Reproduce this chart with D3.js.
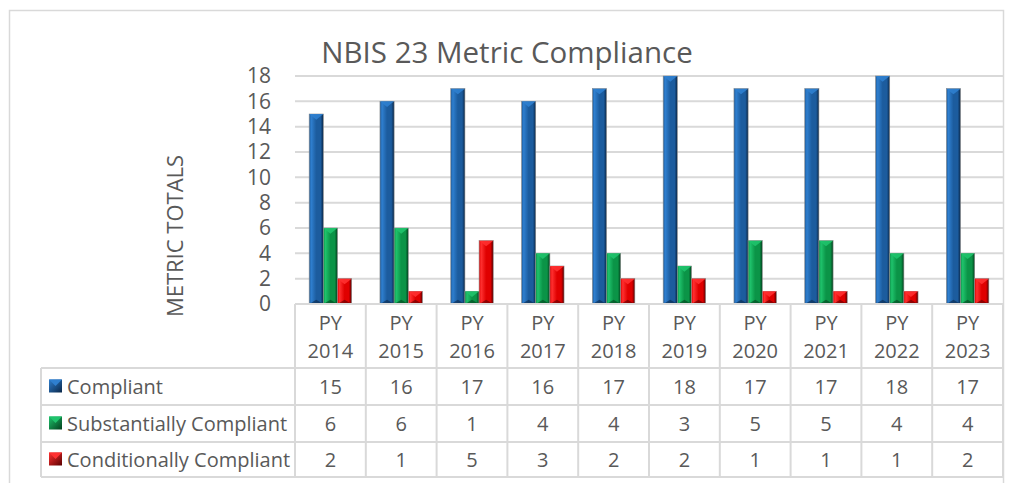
<!DOCTYPE html>
<html>
<head>
<meta charset="utf-8">
<script src="https://cdn.jsdelivr.net/npm/d3@7"></script>
<style>
	body { margin: 0; background: #fff; }
	text { font-family: "Open Sans", "Noto Sans", sans-serif; fill: #595959; }
</style>
</head>
<body>
<div id="chart"></div>
<script>
var years = ["2014", "2015", "2016", "2017", "2018", "2019", "2020", "2021", "2022", "2023"];
var seriesNames = ["Compliant", "Substantially Compliant", "Conditionally Compliant"];
var compliant = [15, 16, 17, 16, 17, 18, 17, 17, 18, 17];
var substantially = [6, 6, 1, 4, 4, 3, 5, 5, 4, 4];
var conditionally = [2, 1, 5, 3, 2, 2, 1, 1, 1, 2];
var yTicks = [0, 2, 4, 6, 8, 10, 12, 14, 16, 18];

var seriesValues = [compliant, substantially, conditionally];
var colors = [
	{ light: "#2f7fcf", main: "#1c5c9e", dark: "#0a2748" },
	{ light: "#1fc36c", main: "#0b9447", dark: "#02401d" },
	{ light: "#ff3030", main: "#e00000", dark: "#5a0000" }
];

var W = 1012, H = 483;
var plotLeft = 295, plotRight = 1003, plotTop = 76, plotBottom = 304;
var rowLines = [368, 405, 442, 477];
var legendLeft = 41;

var svg = d3.select("#chart").append("svg")
	.attr("width", W)
	.attr("height", H);

svg.append("rect").attr("width", W).attr("height", H).attr("fill", "#fff");

// chart border
svg.append("rect")
	.attr("x", 9.5).attr("y", 10.5)
	.attr("width", 994).attr("height", 520)
	.attr("fill", "none")
	.attr("stroke", "#d9d9d9")
	.attr("stroke-width", 1.5);

var x = d3.scaleBand()
	.domain(years)
	.range([plotLeft, plotRight]);

var xs = d3.scaleBand()
	.domain(seriesNames)
	.range([x.bandwidth() * 0.2, x.bandwidth() * 0.8]);

var y = d3.scaleLinear()
	.domain([0, 18])
	.range([plotBottom, plotTop]);

// gridlines
svg.append("g")
	.selectAll("line")
	.data(yTicks)
	.enter()
	.append("line")
	.attr("x1", plotLeft).attr("x2", plotRight)
	.attr("y1", function (d) { return y(d); })
	.attr("y2", function (d) { return y(d); })
	.attr("stroke", "#d9d9d9")
	.attr("stroke-width", 2);

// y tick labels
svg.append("g")
	.selectAll("text")
	.data(yTicks)
	.enter()
	.append("text")
	.attr("x", 271)
	.attr("y", function (d) { return y(d); })
	.attr("dy", "0.35em")
	.attr("text-anchor", "end")
	.style("font-size", "21px")
	.text(function (d) { return d; });

// y axis title
svg.append("text")
	.attr("transform", "translate(175,236) rotate(-90)")
	.attr("text-anchor", "middle")
	.attr("dy", "0.35em")
	.style("font-size", "22px")
	.text("METRIC TOTALS");

// title
svg.append("text")
	.attr("x", 507)
	.attr("y", 63)
	.attr("text-anchor", "middle")
	.style("font-size", "29.5px")
	.text("NBIS 23 Metric Compliance");

// gradients
var defs = svg.append("defs");
colors.forEach(function (c, i) {
	var g = defs.append("linearGradient")
		.attr("id", "grad" + i)
		.attr("x1", "0").attr("x2", "1").attr("y1", "0").attr("y2", "0");
	g.append("stop").attr("offset", "0").attr("stop-color", c.main);
	g.append("stop").attr("offset", "0.15").attr("stop-color", c.light);
	g.append("stop").attr("offset", "0.5").attr("stop-color", c.main);
	g.append("stop").attr("offset", "0.8").attr("stop-color", c.main);
	g.append("stop").attr("offset", "1").attr("stop-color", c.dark);
});

// bars
var barData = [];
seriesNames.forEach(function (s, si) {
	years.forEach(function (yr, yi) {
		barData.push({ series: s, si: si, year: yr, value: seriesValues[si][yi] });
	});
});

var bars = svg.append("g")
	.selectAll("g")
	.data(barData)
	.enter()
	.append("g");

bars.append("rect")
	.attr("x", function (d) { return x(d.year) + xs(d.series); })
	.attr("y", function (d) { return y(d.value); })
	.attr("width", xs.bandwidth())
	.attr("height", function (d) { return plotBottom - y(d.value); })
	.attr("fill", function (d) { return "url(#grad" + d.si + ")"; })
	.attr("stroke", "#8c8c8c")
	.attr("stroke-width", 0.6);

// top bevel
bars.append("path")
	.attr("d", function (d) {
		var x0 = x(d.year) + xs(d.series), w = xs.bandwidth(), t = y(d.value);
		return "M" + x0 + "," + t + "L" + (x0 + w) + "," + t + "L" + (x0 + w / 2) + "," + (t + w * 0.4) + "Z";
	})
	.attr("fill", function (d) { return colors[d.si].light; })
	.attr("opacity", 0.9);

// bottom bevel
bars.append("path")
	.attr("d", function (d) {
		var x0 = x(d.year) + xs(d.series), w = xs.bandwidth(), b = plotBottom;
		return "M" + x0 + "," + b + "L" + (x0 + w) + "," + b + "L" + (x0 + w / 2) + "," + (b - w * 0.3) + "Z";
	})
	.attr("fill", function (d) { return colors[d.si].dark; })
	.attr("opacity", 0.6);

// data table
var table = svg.append("g");
var lineColor = "#d9d9d9";

// horizontal lines
table.append("line")
	.attr("x1", plotLeft).attr("x2", plotRight)
	.attr("y1", plotBottom).attr("y2", plotBottom)
	.attr("stroke", lineColor).attr("stroke-width", 2);
table.selectAll(".hrow")
	.data(rowLines)
	.enter()
	.append("line")
	.attr("x1", legendLeft).attr("x2", plotRight)
	.attr("y1", function (d) { return d; })
	.attr("y2", function (d) { return d; })
	.attr("stroke", lineColor).attr("stroke-width", 2);

// vertical lines
var vx = years.map(function (d) { return x(d); }).concat([plotRight]);
table.selectAll(".vcol")
	.data(vx)
	.enter()
	.append("line")
	.attr("x1", function (d) { return d; })
	.attr("x2", function (d) { return d; })
	.attr("y1", plotBottom).attr("y2", rowLines[3])
	.attr("stroke", lineColor).attr("stroke-width", 2);
table.append("line")
	.attr("x1", legendLeft).attr("x2", legendLeft)
	.attr("y1", rowLines[0]).attr("y2", rowLines[3])
	.attr("stroke", lineColor).attr("stroke-width", 2);

// category header
var header = table.selectAll(".hdr")
	.data(years)
	.enter()
	.append("text")
	.attr("x", function (d) { return x(d) + x.bandwidth() / 2; })
	.attr("text-anchor", "middle")
	.style("font-size", "20px");
header.append("tspan")
	.attr("x", function (d) { return x(d) + x.bandwidth() / 2; })
	.attr("y", 330)
	.text("PY");
header.append("tspan")
	.attr("x", function (d) { return x(d) + x.bandwidth() / 2; })
	.attr("y", 358)
	.text(function (d) { return d; });

// rows
seriesNames.forEach(function (s, si) {
	var cy = (rowLines[si] + rowLines[si + 1]) / 2;
	var kg = defs.append("linearGradient")
		.attr("id", "key" + si)
		.attr("x1", "0").attr("x2", "1").attr("y1", "0").attr("y2", "1");
	kg.append("stop").attr("offset", "0").attr("stop-color", colors[si].light);
	kg.append("stop").attr("offset", "1").attr("stop-color", colors[si].dark);
	table.append("rect")
		.attr("x", 49).attr("y", cy - 7)
		.attr("width", 13).attr("height", 13)
		.attr("fill", "url(#key" + si + ")");
	table.append("path")
		.attr("d", "M49," + (cy - 7) + "L62," + (cy - 7) + "L55.5," + (cy - 0.5) + "Z")
		.attr("fill", colors[si].light);
	table.append("text")
		.attr("x", 67).attr("y", cy)
		.attr("dy", "0.35em")
		.style("font-size", "20px")
		.text(s);
	table.selectAll(".v" + si)
		.data(seriesValues[si])
		.enter()
		.append("text")
		.attr("x", function (d, i) { return x(years[i]) + x.bandwidth() / 2; })
		.attr("y", cy)
		.attr("dy", "0.35em")
		.attr("text-anchor", "middle")
		.style("font-size", "20px")
		.text(function (d) { return d; });
});
</script>
</body>
</html>
